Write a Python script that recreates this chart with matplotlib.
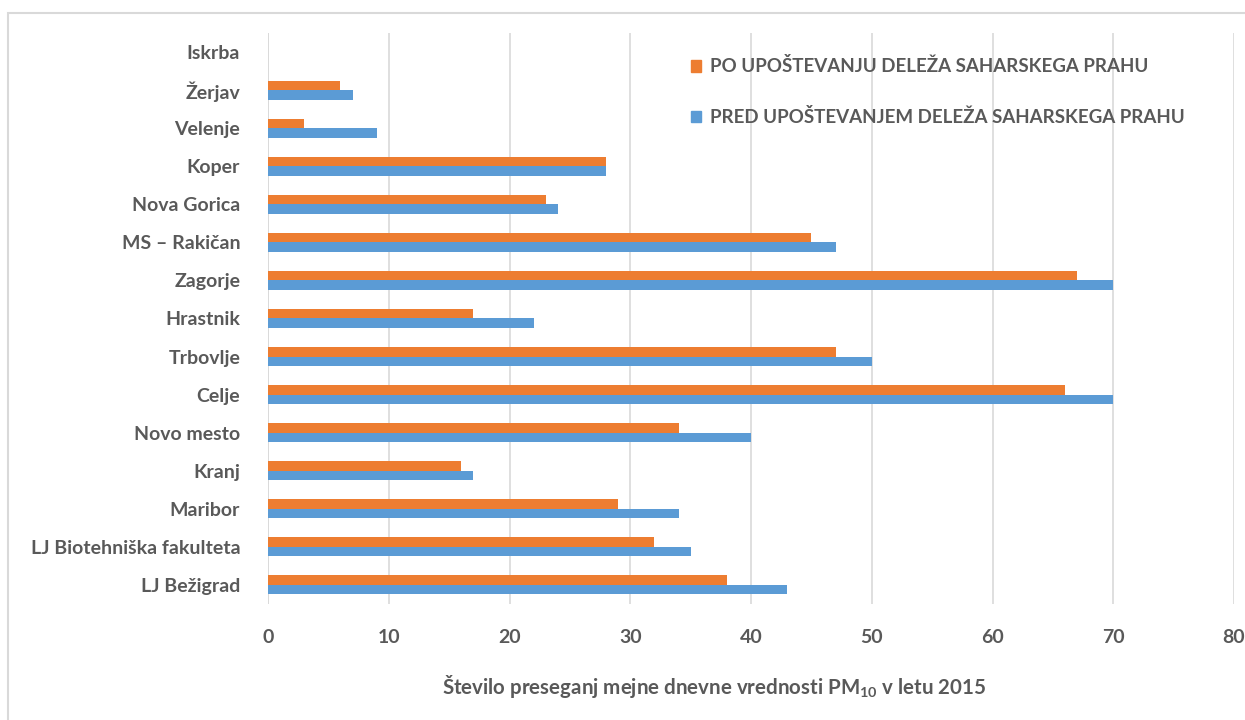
import matplotlib
matplotlib.use('Agg')
import matplotlib.pyplot as plt
from matplotlib.patches import Patch, Rectangle
import numpy as np

stations = ['Iskrba', 'Žerjav', 'Velenje', 'Koper', 'Nova Gorica', 'MS – Rakičan', 'Zagorje',
            'Hrastnik', 'Trbovlje', 'Celje', 'Novo mesto', 'Kranj', 'Maribor',
            'LJ Biotehniška fakulteta', 'LJ Bežigrad']
po_values = [0, 6, 3, 28, 23, 45, 67, 17, 47, 66, 34, 16, 29, 32, 38]
pred_values = [0, 7, 9, 28, 24, 47, 70, 22, 50, 70, 40, 17, 34, 35, 43]
x_ticks = [0, 10, 20, 30, 40, 50, 60, 70, 80]
label_po = 'PO UPOŠTEVANJU DELEŽA SAHARSKEGA PRAHU'
label_pred = 'PRED UPOŠTEVANJEM DELEŽA SAHARSKEGA PRAHU'

orange = '#ed7d31'
blue = '#5b9bd5'
txt = '#595959'
grid = '#d9d9d9'

plt.rcParams['font.family'] = ['Lato', 'DejaVu Sans']
plt.rcParams['font.weight'] = 'bold'
plt.rcParams['mathtext.fontset'] = 'custom'
plt.rcParams['mathtext.rm'] = 'Lato:bold'
plt.rcParams['mathtext.default'] = 'rm'

fig = plt.figure(figsize=(12.45, 7.2), dpi=100)
ax = fig.add_axes([268 / 1245, 1 - 604 / 720, (1234 - 268) / 1245, (604 - 33) / 720])

# outer frame like the Excel chart area
fig.patches.append(Rectangle((7.5 / 1245, -0.1), 1.2, 1 - 13 / 720 + 0.1, transform=fig.transFigure,
                             fill=False, edgecolor=grid, linewidth=1.5))

y = np.arange(len(stations))
h = 0.25
ax.barh(y - h / 2, po_values, height=h, color=orange, label=label_po)
ax.barh(y + h / 2, pred_values, height=h, color=blue, label=label_pred)

ax.set_xlim(0, 80)
ax.set_ylim(len(stations) - 0.5, -0.5)
ax.set_xticks(x_ticks)
ax.set_yticks(y)
ax.set_yticklabels(stations)
ax.xaxis.grid(True, color=grid, linewidth=1.2)
ax.set_axisbelow(True)
for s in ax.spines.values():
    s.set_visible(False)
ax.axvline(0, color=grid, linewidth=1.2, zorder=0)
ax.tick_params(axis='both', length=0, colors=txt, labelsize=14)
ax.tick_params(axis='x', pad=18)
ax.tick_params(axis='y', pad=20)

fig.text(714 / 1245, 1 - 687 / 720, 'Število preseganj mejne dnevne vrednosti PM$_{10}$ v letu 2015',
         ha='center', va='center', color=txt, fontsize=14.8)

handles = [Patch(color=orange), Patch(color=blue)]
leg = ax.legend(handles, [label_po, label_pred], loc='upper left',
                bbox_to_anchor=(683 / 1245, 1 - 50 / 720), bbox_transform=fig.transFigure,
                frameon=False, fontsize=13.5, handlelength=0.55, handleheight=0.55,
                handletextpad=0.5, labelspacing=1.75, borderaxespad=0)
for t in leg.get_texts():
    t.set_color(txt)

fig.savefig('out.png', dpi=100, facecolor='white')
